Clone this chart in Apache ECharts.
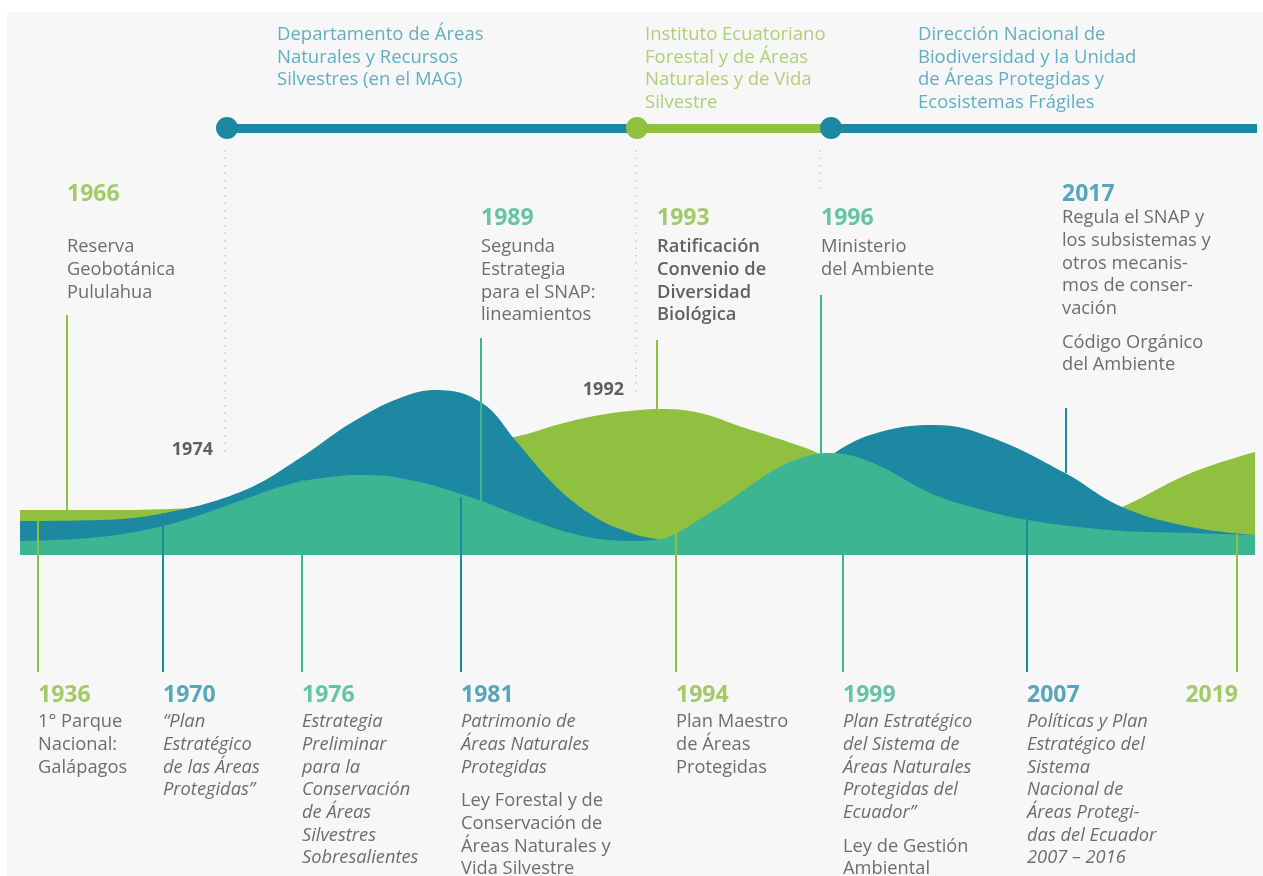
<!DOCTYPE html>
<html>
<head>
<meta charset="utf-8">
<script src="https://cdn.jsdelivr.net/npm/echarts@6/dist/echarts.min.js"></script>
<style>
html, body { margin: 0; padding: 0; background: #fff; }
#timeline { position: absolute; left: 7px; top: 12px; width: 1256px; height: 864px; }
</style>
</head>
<body>
<div id="timeline"></div>
<script>
// x = position along the timeline band, y = height above the base of the band

// wave layers, [position, height]
var greenWave = [[20,45],[100,45],[170,46],[250,55],[350,85],[450,110],[514,118],[560,131],[600,140],[640,145],[661,146],[700,142],[742,128],[791,112],[822,100],[880,65],[950,30],[1000,17],[1060,25],[1122,48],[1191,82],[1255,103]]
var tealWave  = [[20,34],[100,35],[170,43],[245,65],[300,97],[351,132],[400,157],[437,165],[482,152],[516,114],[545,80],[571,55],[600,35],[620,26],[645,18],[680,14],[740,27],[790,65],[836,103],[880,123],[935,130],[990,118],[1065,82],[1122,48],[1191,28],[1255,20]]
var mintWave  = [[20,14],[100,18],[163,29],[200,40],[245,56],[290,71],[330,78],[360,80],[400,77],[461,61],[531,35],[570,22],[600,16],[630,14],[655,15],[673,20],[700,36],[730,55],[763,78],[795,95],[830,102],[873,92],[930,62],[975,47],[1028,35],[1110,25],[1190,22],[1255,20]]

// events above the band
var topYears  = ['1966', '1989', '1993', '1996', '2017']
var topPos    = [67, 481, 657, 821, 1066]
var topLayer  = ['green', 'mint', 'green', 'mint', 'teal']
var topStem   = [[240,45], [217,50], [215,145], [260,100], [147,82]]
var topNotes  = [
	[['Reserva', 'Geobotánica', 'Pululahua']],
	[['Segunda', 'Estrategia', 'para el SNAP:', 'lineamientos']],
	[['Ratificación', 'Convenio de', 'Diversidad', 'Biológica']],
	[['Ministerio', 'del Ambiente']],
	[['Regula el SNAP y', 'los subsistemas y', 'otros mecanis-', 'mos de conser-', 'vación'], ['Código Orgánico', 'del Ambiente']]
]

// events below the band
var botYears  = ['1936', '1970', '1976', '1981', '1994', '1999', '2007', '2019']
var botPos    = [38, 163, 302, 461, 676, 843, 1027, 1237]
var botLayer  = ['green', 'teal', 'mint', 'teal', 'green', 'mint', 'teal', 'green']
var botStem   = [[34,-117], [42,-117], [75,-117], [58,-117], [22,-117], [100,-117], [35,-117], [21,-117]]
var botNotes  = [
	[['1° Parque', 'Nacional:', 'Galápagos']],
	[['“Plan', 'Estratégico', 'de las Áreas', 'Protegidas”']],
	[['Estrategia', 'Preliminar', 'para la', 'Conservación', 'de Áreas', 'Silvestres', 'Sobresalientes']],
	[['Patrimonio de', 'Áreas Naturales', 'Protegidas'], ['Ley Forestal y de', 'Conservación de', 'Áreas Naturales y', 'Vida Silvestre']],
	[['Plan Maestro', 'de Áreas', 'Protegidas']],
	[['Plan Estratégico', 'del Sistema de', 'Áreas Naturales', 'Protegidas del', 'Ecuador”'], ['Ley de Gestión', 'Ambiental']],
	[['Políticas y Plan', 'Estratégico del', 'Sistema', 'Nacional de', 'Áreas Protegi-', 'das del Ecuador', '2007 – 2016']],
	[]
]
// which paragraphs are titles of plans (set in italics)
var botTitled = [[0], [1], [1], [1, 0], [0], [1, 0], [1], []]

// institutions in charge, top timeline
var agencyStart = [227, 637, 831]
var agencyEnd   = [637, 831, 1257]
var agencyLayer = ['teal', 'green', 'teal']
var agencyNames = [
	['Departamento de Áreas', 'Naturales y Recursos', 'Silvestres (en el MAG)'],
	['Instituto Ecuatoriano', 'Forestal y de Áreas', 'Naturales y de Vida', 'Silvestre'],
	['Dirección Nacional de', 'Biodiversidad y la Unidad', 'de Áreas Protegidas y', 'Ecosistemas Frágiles']
]
var agencyTextPos = [277, 645, 918]

// transitions between institutions (small labels on the dotted lines)
var switchYears = ['1974', '1992', '']
var switchPos   = [225, 636, 820]
var switchGuide = [[405,97], [405,160], [405,365]]
var switchTextH = [105, 165, 0]

var fill = {green: '#90c03f', teal: '#1d88a2', mint: '#3db593'}
var ink  = {green: '#8cbf43', teal: '#2d91ad', mint: '#3fb694'}
var head = {green: '#9cc657', teal: '#3b9bb6'}
var FONT = '"Open Sans", "DejaVu Sans", sans-serif'
var LH = 22.7
var BAR_H = 427

var timeline = echarts.init(document.getElementById('timeline'))

function rich_block(paragraphs, italic, strong){
	let parts = []
	for(let p=0; p<paragraphs.length; p++){
		if(p>0) parts.push('{gap| }')
		let key = strong ? 'b' : ((italic && italic[p]) ? 'i' : 'n')
		for(let k=0; k<paragraphs[p].length; k++){
			parts.push('{' + key + '|' + paragraphs[p][k] + '}')
		}
	}
	return parts.join('\n')
}

var richStyle = {
	n: {fontFamily: FONT, fontSize: 18.3, lineHeight: LH, color: '#4a4a4a'},
	i: {fontFamily: FONT, fontSize: 18.3, lineHeight: LH, color: '#4a4a4a', fontStyle: 'italic'},
	b: {fontFamily: FONT, fontSize: 18.3, lineHeight: LH, color: '#3a3a3a', fontWeight: 600},
	gap: {fontSize: 10, lineHeight: 11}
}

function year_item(x, h, year, color, align){
	return {value: [x, h + 15],
		label: {show: true, position: [0,0], verticalAlign: 'top', align: align || 'left',
			formatter: year, fontFamily: FONT, fontSize: 23, fontWeight: 'bold', lineHeight: 30, color: color}}
}

// text block anchored at (x, h) = centre of its first line
function note_item(x, h, text){
	return {value: [x, h + LH/2], label: {
		show: true,
		position: [0, 0],
		align: 'left',
		verticalAlign: 'top',
		formatter: text,
		rich: richStyle
	}}
}

var textData = []
var stemData = []

var topYearH = [361, 337, 337, 337, 361]
var topNoteH = [308, 308, 308, 308, 337]
for(let i=0; i<topYears.length; i++){
	let tx = topPos[i] - (i === 4 ? 4 : 0)
	textData.push(year_item(tx, topYearH[i], topYears[i], ink[topLayer[i]]))
	textData.push(note_item(tx, topNoteH[i], rich_block(topNotes[i], null, topYears[i] === '1993')))
	stemData.push({coords: [[topPos[i], topStem[i][0]], [topPos[i], topStem[i][1]]], lineStyle: {color: fill[topLayer[i]]}})
}

for(let i=0; i<botYears.length; i++){
	let right = i === botYears.length - 1
	textData.push(year_item(botPos[i] + (right ? 1 : 0), -140, botYears[i], ink[botLayer[i]], right ? 'right' : 'left'))
	if(botNotes[i].length){
		textData.push(note_item(botPos[i], -167, rich_block(botNotes[i], botTitled[i], false)))
	}
	stemData.push({coords: [[botPos[i], botStem[i][0]], [botPos[i], botStem[i][1]]], lineStyle: {color: fill[botLayer[i]]}})
}

for(let i=0; i<agencyNames.length; i++){
	textData.push({value: [agencyTextPos[i], 520 + 11.25],
		label: {show: true, position: [0,0], verticalAlign: 'top', align: 'left',
			formatter: agencyNames[i].join('\n'), fontFamily: FONT, fontSize: 18.5, lineHeight: 22.5, color: head[agencyLayer[i]]}})
}

var guideData = []
for(let i=0; i<switchPos.length; i++){
	guideData.push({coords: [[switchPos[i], switchGuide[i][0]], [switchPos[i], switchGuide[i][1]]]})
	if(switchYears[i]){
		textData.push({value: [switchPos[i] - 12, switchTextH[i] + 10],
			label: {show: true, position: [0,0], verticalAlign: 'top', align: 'right',
				formatter: switchYears[i], fontFamily: FONT, fontSize: 18, fontWeight: 'bold', lineHeight: 20, color: '#3a3a3a'}})
	}
}

var barData = []
var dotData = []
for(let i=0; i<agencyStart.length; i++){
	barData.push({coords: [[agencyStart[i], BAR_H], [agencyEnd[i], BAR_H]], lineStyle: {color: fill[agencyLayer[i]]}})
	dotData.push({value: [agencyStart[i], BAR_H], itemStyle: {color: fill[agencyLayer[i]], opacity: 1}})
}

var waveSeries = [
	[greenWave, fill.green],
	[tealWave, fill.teal],
	[mintWave, fill.mint]
].map(function(w, k){
	return {
		type: 'line',
		data: w[0],
		smooth: 0.4,
		symbol: 'none',
		silent: true,
		z: 2 + k,
		lineStyle: {width: 0},
		areaStyle: {color: w[1], opacity: 1}
	}
})

var option = {
	backgroundColor: '#f7f7f7',
	animation: false,
	grid: {left: 0, right: 0, top: 0, bottom: 0},
	xAxis: {type: 'value', min: 7, max: 1263, show: false},
	yAxis: {type: 'value', min: -321, max: 543, show: false},
	series: waveSeries.concat([
		{
			type: 'lines',
			coordinateSystem: 'cartesian2d',
			silent: true,
			z: 10,
			lineStyle: {width: 2, opacity: 1},
			data: stemData
		},
		{
			type: 'lines',
			coordinateSystem: 'cartesian2d',
			silent: true,
			z: 1,
			lineStyle: {width: 1.5, type: [1.5, 6], color: '#c8c8c8', opacity: 1},
			data: guideData
		},
		{
			type: 'lines',
			coordinateSystem: 'cartesian2d',
			silent: true,
			z: 10,
			lineStyle: {width: 9, opacity: 1},
			data: barData
		},
		{
			type: 'scatter',
			symbolSize: 22,
			silent: true,
			z: 20,
			itemStyle: {opacity: 1},
			data: dotData
		},
		{
			type: 'scatter',
			symbolSize: 0,
			silent: true,
			z: 30,
			itemStyle: {color: 'transparent'},
			data: textData
		}
	])
}
timeline.setOption(option)
</script>
</body>
</html>
